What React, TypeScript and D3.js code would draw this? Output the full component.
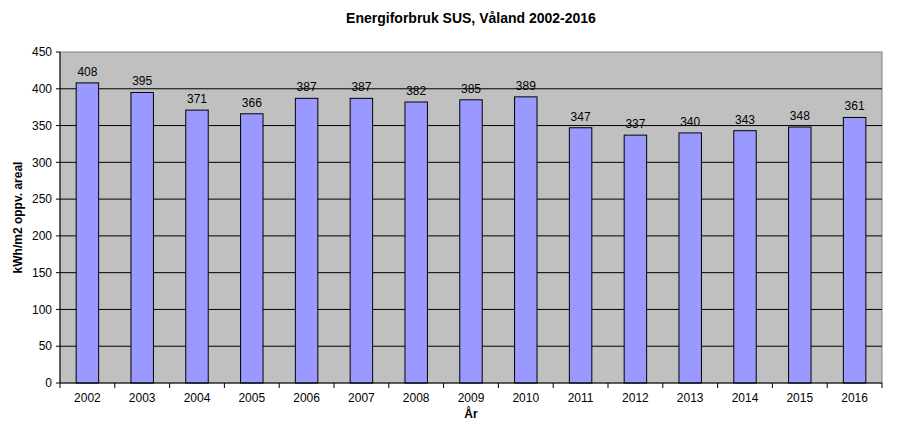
import React from "react";
import * as d3 from "d3";

const years = ["2002","2003","2004","2005","2006","2007","2008","2009","2010","2011","2012","2013","2014","2015","2016"];
const values = [408,395,371,366,387,387,382,385,389,347,337,340,343,348,361];
const yTicks = [0,50,100,150,200,250,300,350,400,450];

const W = 920, H = 426;
const m = { left: 60, right: 38, top: 52, bottom: 43 };

export default function App() {
  const x = d3.scaleBand<string>().domain(years).range([m.left, W - m.right]);
  const y = d3.scaleLinear().domain([0, 450]).range([H - m.bottom, m.top]);
  const bw = x.bandwidth() * 0.41;
  const font = "Arial, 'Liberation Sans', sans-serif";
  return (
    <svg width={W} height={H} style={{ position: "absolute", left: 0, top: 0, background: "#fff" }} fontFamily={font}>
      <text x={(m.left + W - m.right) / 2} y={23} textAnchor="middle" fontSize={14} fontWeight="bold">Energiforbruk SUS, Våland 2002-2016</text>
      <rect x={m.left} y={m.top} width={W - m.left - m.right} height={H - m.top - m.bottom} fill="#c0c0c0" stroke="#808080" />
      {yTicks.filter(t => t > 0 && t < 450).map(t => (
        <line key={t} x1={m.left} x2={W - m.right} y1={y(t)} y2={y(t)} stroke="#000" />
      ))}
      {years.map((yr, i) => (
        <g key={yr}>
          <rect x={x(yr)! + (x.bandwidth() - bw) / 2} y={y(values[i])} width={bw} height={y(0) - y(values[i])} fill="#9999ff" stroke="#000" />
          <text x={x(yr)! + x.bandwidth() / 2} y={y(values[i]) - 7} textAnchor="middle" fontSize={12}>{values[i]}</text>
        </g>
      ))}
      <line x1={m.left} x2={m.left} y1={m.top} y2={y(0)} stroke="#000" />
      <line x1={m.left} x2={W - m.right} y1={y(0)} y2={y(0)} stroke="#000" />
      {yTicks.map(t => (
        <g key={t}>
          <line x1={m.left - 4} x2={m.left} y1={y(t)} y2={y(t)} stroke="#000" />
          <text x={m.left - 8} y={y(t)} dy="0.35em" textAnchor="end" fontSize={12}>{t}</text>
        </g>
      ))}
      {years.map((yr, i) => (
        <line key={"t" + yr} x1={x(yr)!} x2={x(yr)!} y1={y(0)} y2={y(0) + 5} stroke="#000" />
      ))}
      <line x1={W - m.right} x2={W - m.right} y1={y(0)} y2={y(0) + 5} stroke="#000" />
      {years.map(yr => (
        <text key={"l" + yr} x={x(yr)! + x.bandwidth() / 2} y={y(0) + 19} textAnchor="middle" fontSize={12}>{yr}</text>
      ))}
      <text x={W / 2 + 11} y={y(0) + 35} textAnchor="middle" fontSize={12} fontWeight="bold">År</text>
      <text transform={`translate(22, ${(m.top + y(0)) / 2}) rotate(-90)`} textAnchor="middle" fontSize={12} fontWeight="bold">kWh/m2 oppv. areal</text>
    </svg>
  );
}
